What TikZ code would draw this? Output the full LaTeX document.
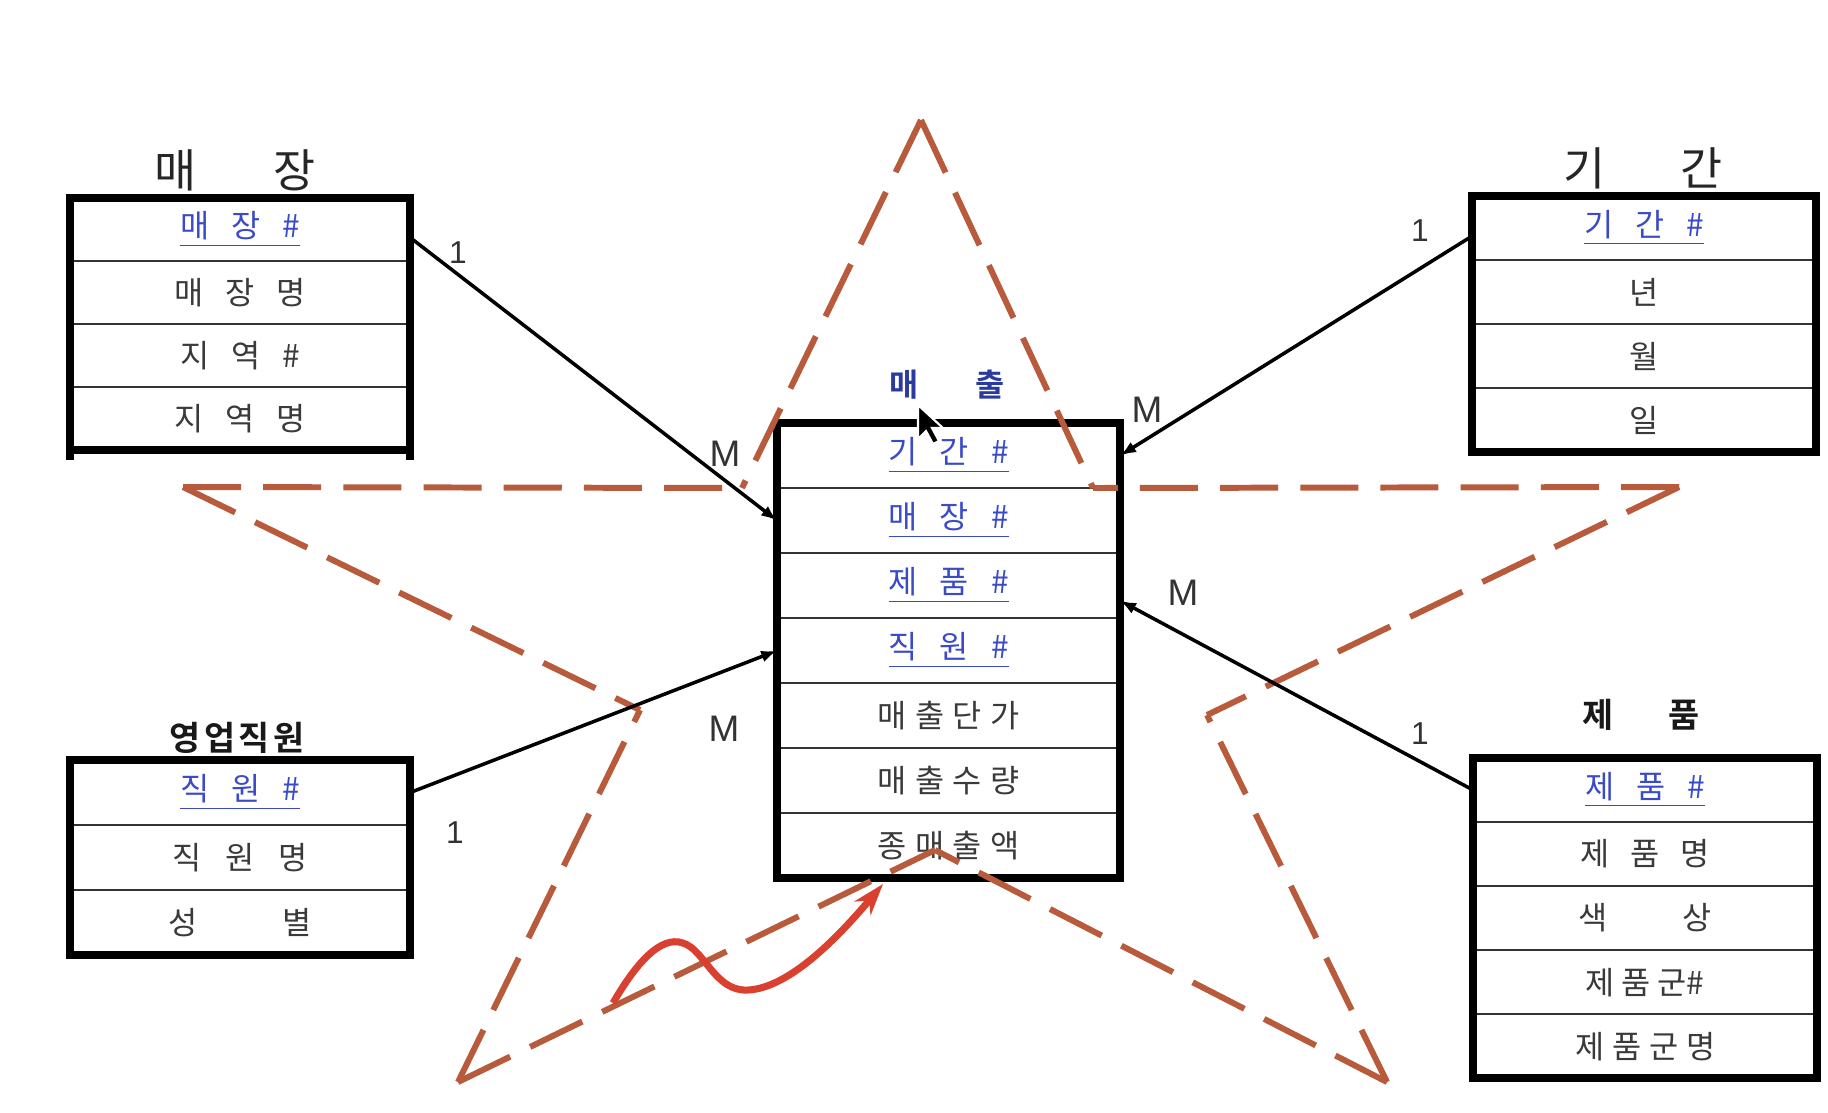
\documentclass[tikz,border=0pt]{standalone}
\usepackage{fontspec}
\setmainfont{Liberation Sans}
\newfontfamily\kr{Noto Sans CJK KR}[BoldFont={Noto Sans CJK KR Bold}]
\usetikzlibrary{arrows.meta}
\definecolor{txtgray}{HTML}{3A3A3A}
\definecolor{keyblue}{HTML}{3B4BC8}
\definecolor{titleblue}{HTML}{2A3A9E}
\definecolor{starbrown}{HTML}{B85A3C}
\definecolor{curvered}{HTML}{D9402F}
\newcommand\gp[1]{\hspace{#1em}}
\newcommand\keytxt[1]{\textcolor{keyblue}{\underline{#1}}}
\begin{document}
\begin{tikzpicture}[x=0.01cm,y=-0.01cm,
  row/.style={draw=black!80, line width=0.7pt, minimum width=3.4cm, minimum height=0.64cm,
    inner sep=0pt, outer sep=0pt, anchor=north west, text=txtgray, font=\kr\fontsize{9}{10}\selectfont},
  outer/.style={draw=black, line width=2.3pt},
  ttl/.style={font=\kr\fontsize{13}{14}\selectfont, text=black!85, inner sep=0pt},
  bttl/.style={font=\kr\bfseries\fontsize{9.6}{11}\selectfont, text=black!90, inner sep=0pt},
  conn/.style={draw=black, line width=1pt, -{Latex[length=4.5pt,width=3.4pt]}},
  lblm/.style={font=\fontsize{10.5}{12}\selectfont, text=black!80, inner sep=0pt},
  lblone/.style={font=\fontsize{9}{10}\selectfont, text=black!80, inner sep=0pt},
  starline/.style={draw=starbrown, line width=1.7pt, dash pattern=on 16.5pt off 6.3pt},
]
\useasboundingbox[fill=white] (0,0) rectangle (1828,1112);

% ---------------- 매장 ----------------
\node[ttl] (tstore) at (235,170) {매\gp{1.67}장};
\node[row, minimum height=0.63cm] (s1) at (70,198) {\keytxt{매\gp{.7}장\gp{.7}\#}};
\node[row, minimum height=0.63cm] (s2) at (s1.south west) {매\gp{.7}장\gp{.7}명};
\node[row, minimum height=0.63cm] (s3) at (s2.south west) {지\gp{.7}역\gp{.7}\#};
\node[row, minimum height=0.63cm] (s4) at (s3.south west) {지\gp{.7}역\gp{.7}명};
\draw[outer] (s1.north west) rectangle (s4.south east);
\draw[outer] (s4.south west) -- ++(0,10);
\draw[outer] (s4.south east) -- ++(0,10);

% ---------------- 기간 ----------------
\node[ttl] (tperiod) at (1643,168) {기\gp{1.65}간};
\node[row, minimum width=3.44cm] (g1) at (1472,196) {\keytxt{기\gp{.7}간\gp{.7}\#}};
\node[row, minimum width=3.44cm] (g2) at (g1.south west) {년};
\node[row, minimum width=3.44cm] (g3) at (g2.south west) {월};
\node[row, minimum width=3.44cm] (g4) at (g3.south west) {일};
\draw[outer] (g1.north west) rectangle (g4.south east);

% ---------------- 매출 ----------------
\node[font=\kr\bfseries\fontsize{9}{10}\selectfont, text=titleblue, inner sep=0pt] (tsales) at (947,385) {매\gp{1.78}출};
\node[row, minimum width=3.43cm, minimum height=0.65cm] (f1) at (777,423) {\keytxt{기\gp{.7}간\gp{.7}\#}};
\node[row, minimum width=3.43cm, minimum height=0.65cm] (f2) at (f1.south west) {\keytxt{매\gp{.7}장\gp{.7}\#}};
\node[row, minimum width=3.43cm, minimum height=0.65cm] (f3) at (f2.south west) {\keytxt{제\gp{.7}품\gp{.7}\#}};
\node[row, minimum width=3.43cm, minimum height=0.65cm] (f4) at (f3.south west) {\keytxt{직\gp{.7}원\gp{.7}\#}};
\node[row, minimum width=3.43cm, minimum height=0.65cm] (f5) at (f4.south west) {매\gp{.27}출\gp{.27}단\gp{.27}가};
\node[row, minimum width=3.43cm, minimum height=0.65cm] (f6) at (f5.south west) {매\gp{.27}출\gp{.27}수\gp{.27}량};
\node[row, minimum width=3.43cm, minimum height=0.65cm] (f7) at (f6.south west) {종\gp{.27}매\gp{.27}출\gp{.27}액};
\draw[outer] (f1.north west) rectangle (f7.south east);

% ---------------- 영업직원 ----------------
\node[bttl] (temp) at (237,738) {영\gp{.1}업\gp{.1}직\gp{.1}원};
\node[row, minimum height=0.65cm] (e1) at (70,760) {\keytxt{직\gp{.7}원\gp{.7}\#}};
\node[row, minimum height=0.65cm] (e2) at (e1.south west) {직\gp{.75}원\gp{.75}명};
\node[row, minimum height=0.65cm] (e3) at (e2.south west) {성\gp{2.7}별};
\draw[outer] (e1.north west) rectangle (e3.south east);

% ---------------- 제품 ----------------
\node[bttl] (tprod) at (1641,715) {제\gp{1.6}품};
\node[row, minimum width=3.44cm] (q1) at (1473,758) {\keytxt{제\gp{.7}품\gp{.7}\#}};
\node[row, minimum width=3.44cm] (q2) at (q1.south west) {제\gp{.65}품\gp{.65}명};
\node[row, minimum width=3.44cm] (q3) at (q2.south west) {색\gp{2.37}상};
\node[row, minimum width=3.44cm] (q4) at (q3.south west) {제\gp{.22}품\gp{.22}군\#};
\node[row, minimum width=3.44cm] (q5) at (q4.south west) {제\gp{.25}품\gp{.25}군\gp{.25}명};
\draw[outer] (q1.north west) rectangle (q5.south east);

% ---------------- star (dashed) ----------------
\coordinate (T) at (921,120);
\coordinate (IUL) at (742,488);
\coordinate (L) at (183,487);
\coordinate (ILL) at (640,710);
\coordinate (BL) at (458,1082);
\coordinate (IB) at (935,850);
\coordinate (BR) at (1387,1082);
\coordinate (ILR) at (1207,715);
\coordinate (R) at (1679,487);
\coordinate (IUR) at (1093,488);
\draw[starline] (T) -- (IUL);
\draw[starline] (T) -- (IUR);
\draw[starline] (L) -- (IUL);
\draw[starline] (L) -- (ILL);
\draw[starline] (BL) -- (ILL);
\draw[starline] (BL) -- (IB);
\draw[starline] (BR) -- (IB);
\draw[starline] (BR) -- (ILR);
\draw[starline] (R) -- (ILR);
\draw[starline] (R) -- (IUR);

% ---------------- connectors ----------------
\draw[conn] ([yshift=-2.3pt]s1.east) -- (f2.west);
\draw[conn] ([yshift=-2.3pt]g1.west) -- (f1.east);
\draw[conn] (q1.west) -- ([yshift=-4.3pt]f3.east);
\draw[conn] (e1.east) -- (f4.west);

\node[lblone] (c1) at (458,253) {1};
\node[lblm]   (c2) at (725,454) {M};
\node[lblone] (c3) at (1420,231) {1};
\node[lblm]   (c4) at (1147,410) {M};
\node[lblm]   (c5) at (1183,593) {M};
\node[lblone] (c6) at (1420,734) {1};
\node[lblone] (c7) at (455,833) {1};
\node[lblm]   (c8) at (724,729) {M};

% ---------------- red wavy arrow ----------------
\coordinate (wa) at (613,1003);
\coordinate (wb) at (883,884);
\draw[curvered, line width=2pt, -{Stealth[length=9pt,width=6pt]}]
  (wa) .. controls (635,965) and (660,935) .. (683,943)
       .. controls (705,950) and (715,992) .. (748,990)
       .. controls (790,988) and (840,935) .. (wb);

% ---------------- mouse cursor ----------------
\filldraw[fill=black, draw=white, line width=0.6pt]
  (918,405) -- ++(0,34) -- ++(8,-8) -- ++(7,13) -- ++(6,-3) -- ++(-7,-13) -- ++(11,0) -- cycle;
\end{tikzpicture}
\end{document}
